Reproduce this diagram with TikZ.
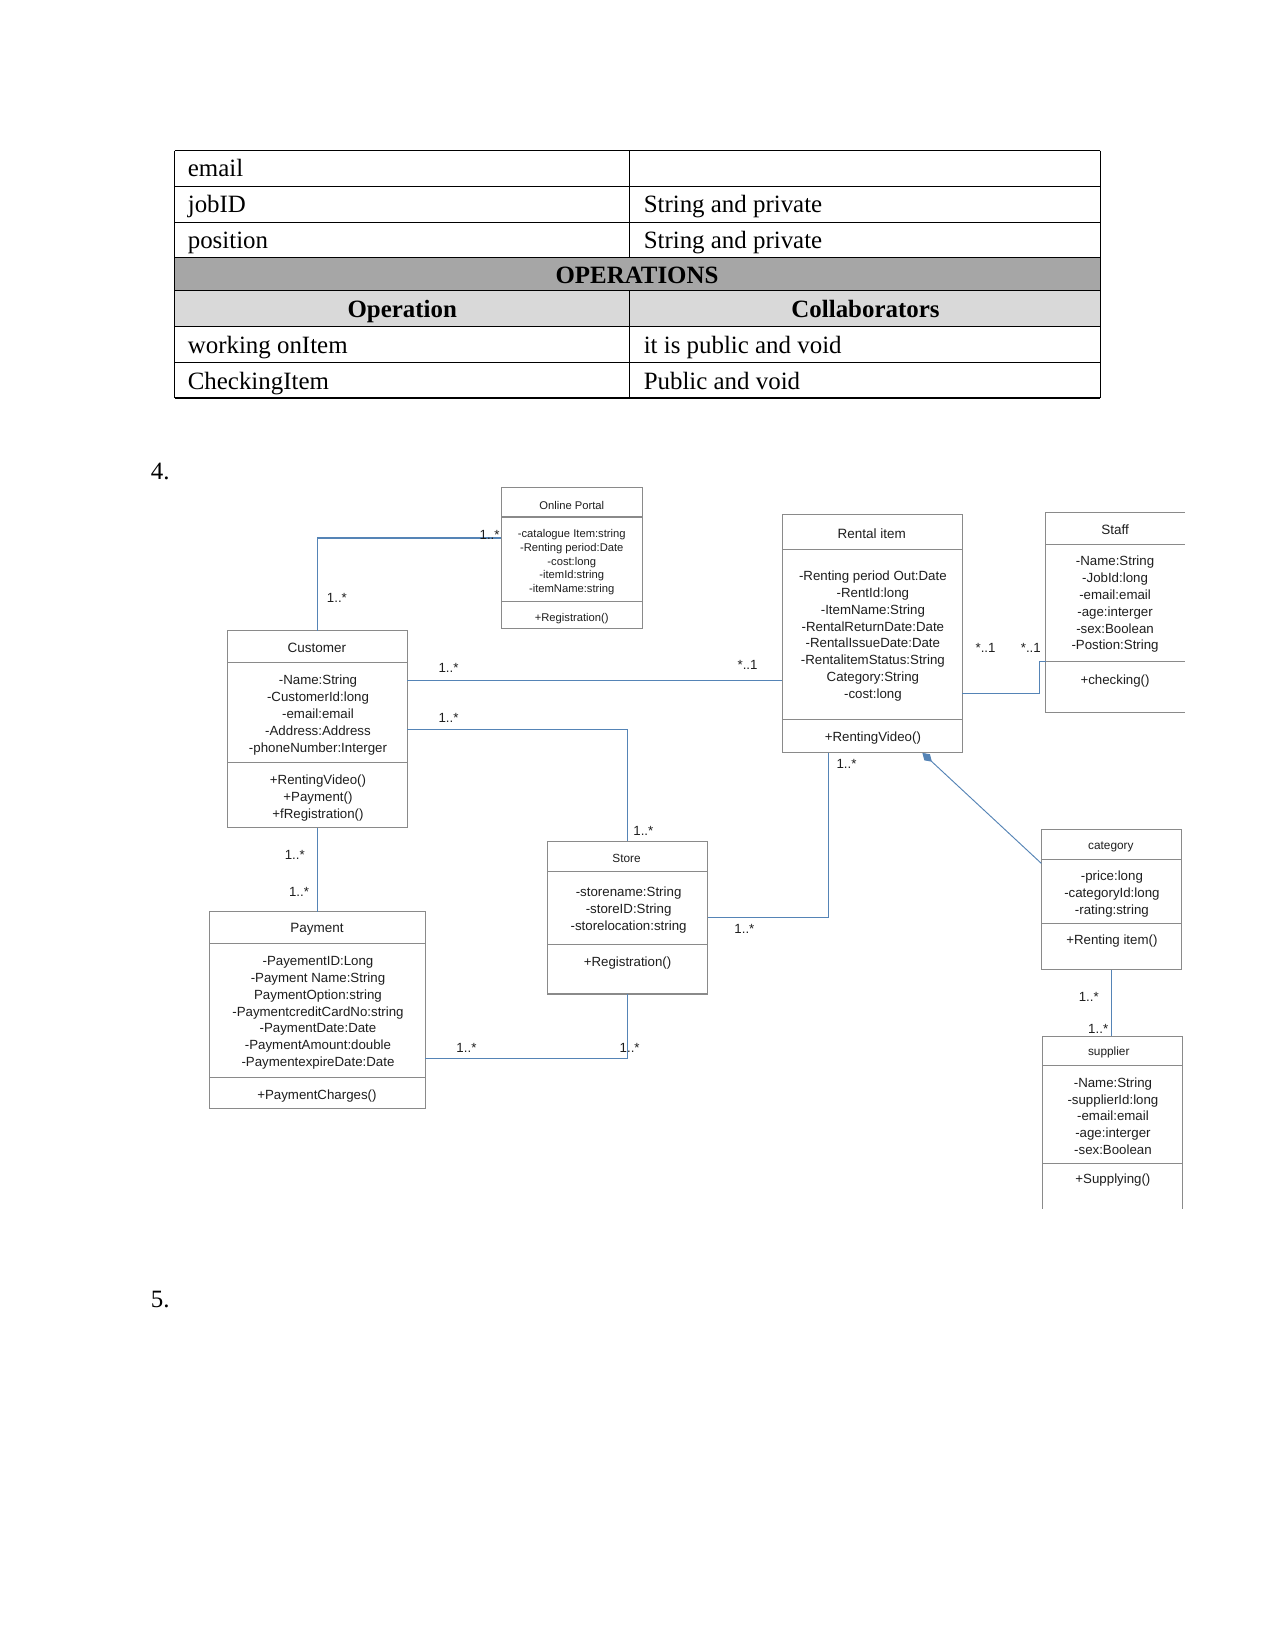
\documentclass[tikz,border=0pt]{standalone}
\usepackage{fontspec}
\setmainfont{Liberation Serif}
\newfontfamily\umlsans{Liberation Sans}
\usetikzlibrary{positioning,calc,arrows.meta}
\definecolor{linkblue}{HTML}{5584B6}
\definecolor{boxgray}{HTML}{8A8A8A}
\definecolor{hdrdark}{HTML}{A6A6A6}
\definecolor{hdrlight}{HTML}{D9D9D9}
\definecolor{umlink}{HTML}{1E1E1E}

\begin{document}
\begin{tikzpicture}[x=0.17828mm, y=-0.17828mm,
  cell/.style={anchor=base west, inner sep=0pt, font=\fontsize{12}{14}\selectfont},
  headcell/.style={anchor=base, inner sep=0pt, font=\fontsize{12}{14}\selectfont\bfseries},
  classbox/.style={inner sep=0pt, outer sep=0pt},
  boxline/.style={draw=boxgray, line width=0.5pt},
  ctitle/.style={inner sep=0pt, yshift=-0.2mm, text=umlink, font=\umlsans\fontsize{6.5}{8.1}\selectfont},
  stitle/.style={ctitle, font=\umlsans\fontsize{5.7}{7}\selectfont},
  members/.style={inner sep=0pt, yshift=-0.36mm, align=center, text=umlink, font=\umlsans\fontsize{6.4}{8.1}\selectfont},
  smallmembers/.style={members, font=\umlsans\fontsize{5.4}{6.6}\selectfont},
  mult/.style={inner sep=0pt, yshift=-0.2mm, text=umlink, font=\umlsans\fontsize{6.4}{8}\selectfont},
  assoc/.style={draw=linkblue, line width=0.55pt},
  compo/.style={assoc, line width=0.45pt, -{Diamond[length=2.2mm, width=1.4mm, fill=linkblue]}}
]
  \fill[white] (0,0) rectangle (1211,1568);
  \useasboundingbox (0,0) rectangle (1211,1568);

  % table rest
  \fill[hdrdark] (166,245) rectangle (1045,276);
  \fill[hdrlight] (166,276) rectangle (1045,310);
  \foreach \y in {143,177,211,245,276,310,344,378} \draw[line width=0.5pt] (166,\y) -- (1045,\y);
  \draw[line width=0.5pt] (166,143) -- (166,378) (1045,143) -- (1045,378);
  \draw[line width=0.5pt] (598,143) -- (598,245) (598,276) -- (598,378);
  \node[cell] (c1) at (178,168) {email};
  \node[cell] (c2) at (178,202) {jobID};
  \node[cell] (c3) at (611,202) {String and private};
  \node[cell] (c4) at (178,236) {position};
  \node[cell] (c5) at (611,236) {String and private};
  \node[headcell] (ops) at (605,269) {OPERATIONS};
  \node[headcell] (opname) at (382,302) {Operation};
  \node[headcell] (collab) at (822,302) {Collaborators};
  \node[cell] (c6) at (178,336) {working onItem};
  \node[cell] (c7) at (611,336) {it is public and void};
  \node[cell] (c8) at (178,370) {CheckingItem};
  \node[cell] (c9) at (611,370) {Public and void};

  \node[cell] (sec4) at (143,455) {4.};
  \node[cell] (sec5) at (143,1242) {5.};

  % class boxes
  \foreach \nm/\xa/\ya/\xb/\yb/\ha/\hb in {
      portal/476/463/610/597/491/571,
      rental/743/489/914/715/522/683,
      staff/993/487/1125/677/517/628,
      customer/216/599/387/786/629/724,
      store/520/799/672/944/828/897,
      payment/199/866/404/1053/896/1023,
      category/989/788/1122/921/816/877,
      supplier/990/984/1123/1148/1012/1105} {
    \node[classbox, minimum width={(\xb-\xa)*0.17828mm}, minimum height={(\yb-\ya)*0.17828mm}]
      (\nm) at ({(\xa+\xb)/2},{(\ya+\yb)/2}) {};
    \draw[boxline] (\xa,\ha) -- (\xb,\ha) (\xa,\hb) -- (\xb,\hb);
  }
  \foreach \nm in {portal,rental,customer,store,payment,category}
    \draw[boxline] (\nm.north west) rectangle (\nm.south east);
  \draw[boxline] (staff.north east) -- (staff.north west) -- (staff.south west) -- (staff.south east);
  \draw[boxline] (supplier.south west) -- (supplier.north west) -- (supplier.north east) -- (supplier.south east);

  \node[smallmembers] (portalname) at (543,478) {Online Portal};
  \node[smallmembers] (portalattr) at (543,532) {-catalogue Item:string\\-Renting period:Date\\-cost:long\\-itemId:string\\-itemName:string};
  \node[smallmembers] (portalops) at (543,585) {+Registration()};

  \node[ctitle] (rentalname) at (828,506) {Rental item};
  \node[members] (rentalattr) at (829,602) {-Renting period Out:Date\\-RentId:long\\-ItemName:String\\-RentalReturnDate:Date\\-RentalIssueDate:Date\\-RentalitemStatus:String\\Category:String\\-cost:long};
  \node[members] (rentalops) at (829,699) {+RentingVideo()};

  \node[ctitle] (staffname) at (1059,502) {Staff};
  \node[members] (staffattr) at (1059,572) {-Name:String\\-JobId:long\\-email:email\\-age:interger\\-sex:Boolean\\-Postion:String};
  \node[members] (staffops) at (1059,645) {+checking()};

  \node[ctitle] (customername) at (301,614) {Customer};
  \node[members] (customerattr) at (302,677) {-Name:String\\-CustomerId:long\\-email:email\\-Address:Address\\-phoneNumber:Interger};
  \node[members] (customerops) at (302,756) {+RentingVideo()\\+Payment()\\+fRegistration()};

  \node[stitle] (storename) at (595,814) {Store};
  \node[members] (storeattr) at (597,862) {-storename:String\\-storeID:String\\-storelocation:string};
  \node[members] (storeops) at (596,913) {+Registration()};

  \node[ctitle] (paymentname) at (301,881) {Payment};
  \node[members] (paymentattr) at (302,960) {-PayementID:Long\\-Payment Name:String\\PaymentOption:string\\-PaymentcreditCardNo:string\\-PaymentDate:Date\\-PaymentAmount:double\\-PaymentexpireDate:Date};
  \node[members] (paymentops) at (301,1039) {+PaymentCharges()};

  \node[stitle] (categoryname) at (1055,803) {category};
  \node[members] (categoryattr) at (1056,847) {-price:long\\-categoryId:long\\-rating:string};
  \node[members] (categoryops) at (1056,892) {+Renting item()};

  \node[stitle] (suppliername) at (1053,998) {supplier};
  \node[members] (supplierattr) at (1057,1058) {-Name:String\\-supplierId:long\\-email:email\\-age:interger\\-sex:Boolean};
  \node[members] (supplierops) at (1057,1119) {+Supplying()};

  % associations
  \draw[assoc] (customer.north) |- ($(portal.west)+(0,-19)$);
  \draw[assoc] ($(customer.east)+(0,-46.5)$) -- ($(rental.west)+(0,44)$);
  \draw[assoc] (customer.east) -| (store.north);
  \draw[assoc] (customer.south) -- (payment.north);
  \draw[assoc] ($(payment.east)+(0,45.5)$) -| (store.south);
  \draw[assoc] (store.east) -| ($(rental.south)+(-41.5,0)$);
  \draw[assoc] ($(rental.east)+(0,57)$) -| ($(staff.west)+(-6,46)$) -- ($(staff.west)+(0,46)$);
  \draw[compo] ($(category.west)+(0,-34.5)$) -- ($(rental.south)+(47.5,0)$);
  \draw[assoc] (category.south) -- (category.south |- supplier.north);

  \foreach \lbl/\x/\y [count=\i] in {{1..*}/320/567, {1..*}/465/507, {1..*}/426/633, {*..1}/710/630,
      {1..*}/426/681, {1..*}/611/788, {1..*}/280/811, {1..*}/284/846, {1..*}/443/994,
      {1..*}/598/994, {1..*}/707/881, {1..*}/804/724, {*..1}/936/614, {*..1}/979/614,
      {1..*}/1034/946, {1..*}/1043/976}
    \node[mult] (m\i) at (\x,\y) {\lbl};
\end{tikzpicture}
\end{document}
